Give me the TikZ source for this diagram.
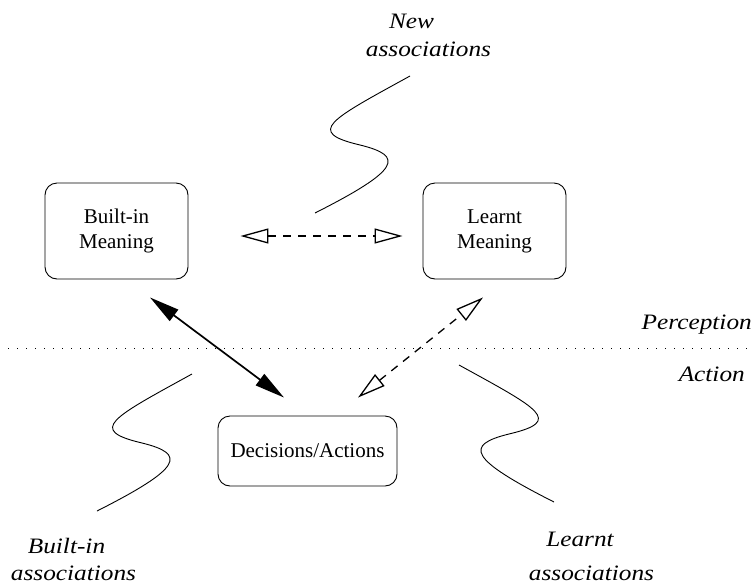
\documentclass[tikz,border=0pt]{standalone}
\usepackage{fontspec}
\setmainfont{Liberation Serif}
\newfontfamily\labfont[FakeStretch=1.15]{Liberation Serif}
\usetikzlibrary{arrows.meta}
\begin{document}
\begin{tikzpicture}[x=1pt,y=-1pt,
  box/.style={draw, rounded corners=12pt, line width=0.9pt, align=center,
    font=\fontsize{21}{25}\selectfont, inner sep=0pt},
  lab/.style={font=\labfont\itshape\fontsize{22}{26}\selectfont, anchor=base, inner sep=0pt},
  solidarrow/.style={line width=1.7pt,
    {Triangle[length=30pt,width=14pt]}-{Triangle[length=30pt,width=14pt]}},
  openarrow/.style={line width=1.3pt, dash pattern=on 8pt off 7pt,
    {Triangle[open,length=28pt,width=15pt]}-{Triangle[open,length=28pt,width=15pt]}},
  squig/.style={line width=0.9pt},
  sepline/.style={line width=0.8pt, dash pattern=on 1.2pt off 7.8pt},
  squiggle/.pic={\draw[squig] (0,0) .. controls (-80,44) and (-105,56) .. (-50,69)
      .. controls (-5,80) and (-10,94) .. (-95,137);}]
\useasboundingbox (0,0) rectangle (755,587);

% boxes
\node[box, minimum width=143pt, minimum height=96pt] (bim) at (116.5,231) {Built-in\\Meaning};
\node[box, minimum width=143pt, minimum height=96pt] (lm) at (494.5,231) {Learnt\\Meaning};
\node[box, minimum width=179pt, minimum height=70pt] (da) at (307.5,451) {Decisions/Actions};

% connectors
\draw[openarrow] ([shift={(52,5)}]bim.east) -- ([shift={(-20,5)}]lm.west);
\draw[solidarrow] ([shift={(33.5,18)}]bim.south) -- ([shift={(-23.5,-18)}]da.north);
\draw[openarrow] ([shift={(50.5,-18)}]da.north) -- ([shift={(-11.5,18)}]lm.south);

% perception / action separator
\coordinate (sepL) at (8,348);
\coordinate (sepR) at (755,348);
\draw[sepline] (sepL) -- (sepR);
\node[lab, anchor=base east] (perc) at (752,329) {Perception};
\node[lab, anchor=base east] (act) at (745,381) {Action};

% squiggles
\pic at (410,76) {squiggle};
\pic at (192,374) {squiggle};
\pic[xscale=-1] at (459,365) {squiggle};

% labels
\node[lab] (new1) at (411.5,28) {New};
\node[lab] (new2) at (428.5,56) {associations};
\node[lab] (bia1) at (66.5,553) {Built-in};
\node[lab] (bia2) at (73.5,580) {associations};
\node[lab] (la1) at (580,546) {Learnt};
\node[lab] (la2) at (591.5,580) {associations};
\end{tikzpicture}
\end{document}
